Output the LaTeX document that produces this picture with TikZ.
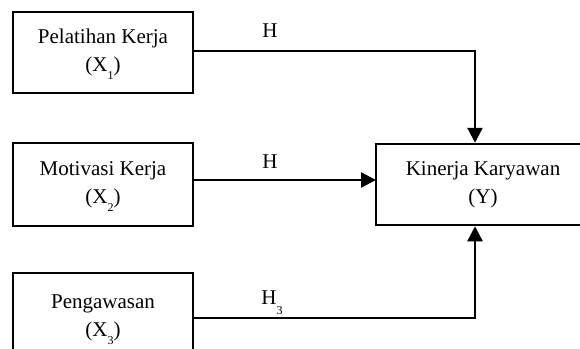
\documentclass[tikz,border=0pt]{standalone}
\usepackage{fontspec}
\setmainfont{Liberation Serif}
\usetikzlibrary{arrows.meta}
\newcommand{\lowsub}[1]{\raisebox{-8pt}[0pt][0pt]{\fontsize{12}{12}\selectfont #1}}
\tikzset{
  varbox/.style={draw, line width=2.5pt, minimum width=180pt, align=center,
    inner sep=0pt, font=\fontsize{21}{28}\selectfont},
  link/.style={line width=2.4pt},
  arr/.style={link, -{Triangle[width=15pt,length=15pt]}},
  hlabel/.style={anchor=base, font=\fontsize{21}{25}\selectfont}
}
\begin{document}
\begin{tikzpicture}[x=1pt, y=-1pt]
\useasboundingbox (0,0) rectangle (580,348);
\clip (0,0) rectangle (580,348);
% independent variables
\node[varbox, minimum height=81pt] (x1) at (103,52.5) {Pelatihan Kerja\\(X\lowsub{1})};
\node[varbox, minimum height=83pt] (x2) at (103,184.5) {Motivasi Kerja\\(X\lowsub{2})};
\node[varbox, minimum height=90pt] (x3) at (103,318) {Pengawasan\\(X\lowsub{3})};
% dependent variable
\node[varbox, minimum width=214pt, minimum height=81pt] (y) at (483,184.5) {Kinerja Karyawan\\(Y)};
% connectors
\coordinate (t1) at (475,51);
\coordinate (t3) at (475,318);
\coordinate (s1) at (193,51);
\coordinate (s2) at (193,180);
\coordinate (e2) at (376,180);
\draw[arr] (s1) -- (t1) -- (t1 |- y.north);
\draw[arr] (s2) -- (e2);
\draw[arr] (x3.east) -- (t3) -- (t3 |- y.south);
% hypothesis labels
\node[hlabel] (h1) at (270,37) {H};
\node[hlabel] (h2) at (270,168) {H};
\node[hlabel] (h3) at (272,304) {H\raisebox{-10pt}[0pt][0pt]{\fontsize{12}{12}\selectfont 3}};
\end{tikzpicture}
\end{document}
